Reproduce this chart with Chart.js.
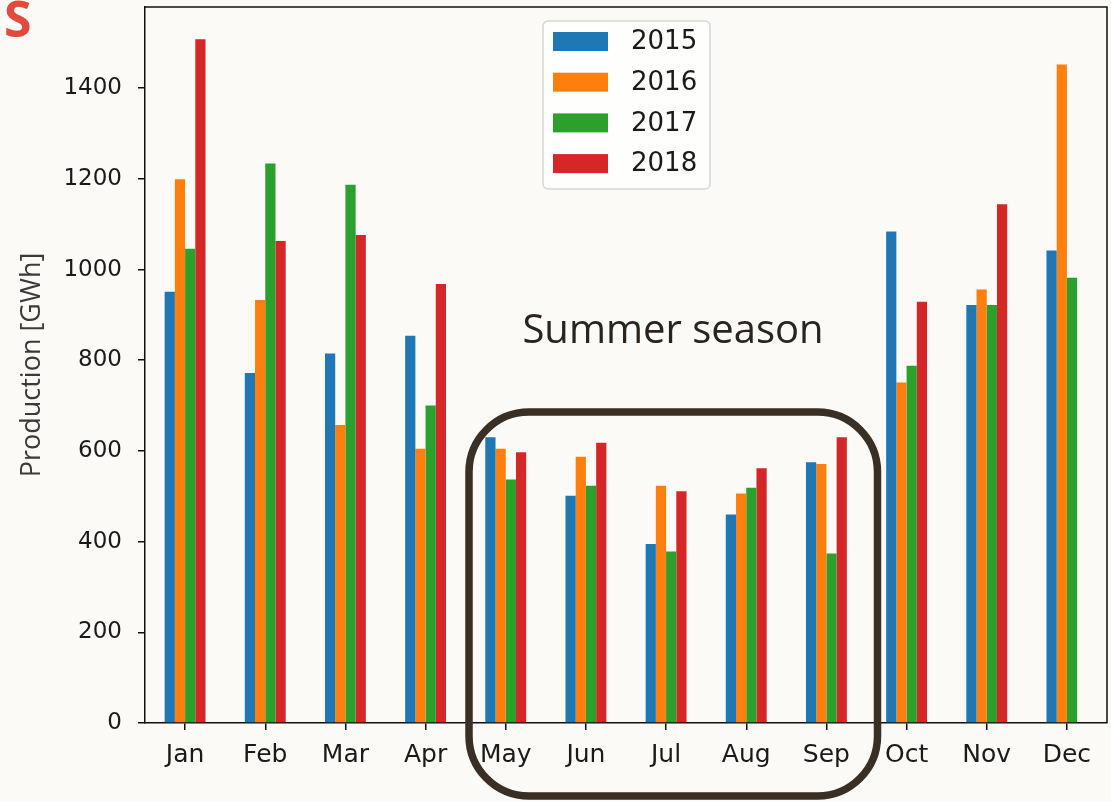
<!DOCTYPE html>
<html>
<head>
<meta charset="utf-8">
<script src="https://cdn.jsdelivr.net/npm/chart.js@4.4.0/dist/chart.umd.min.js"></script>
<style>
  html, body { margin: 0; padding: 0; background: #fbfaf6; }
  #wrap { width: 1111px; height: 802px; position: relative; }
</style>
</head>
<body>
<div id="wrap"><canvas id="prodChart"></canvas></div>
<script>
// monthly production, GWh
const months = ['Jan', 'Feb', 'Mar', 'Apr', 'May', 'Jun', 'Jul', 'Aug', 'Sep', 'Oct', 'Nov', 'Dec'];
const years = ['2015', '2016', '2017', '2018'];
const prod2015 = [951, 772, 815, 854, 630, 501, 395, 460, 575, 1084, 922, 1042];
const prod2016 = [1199, 933, 657, 605, 605, 587, 523, 506, 571, 751, 956, 1452];
const prod2017 = [1046, 1234, 1187, 700, 537, 523, 378, 519, 374, 788, 922, 982];
const prod2018 = [1508, 1063, 1076, 968, 597, 618, 511, 562, 630, 929, 1144, null];
const yTicks = [0, 200, 400, 600, 800, 1000, 1200, 1400];
const colors = ['#1f77b4', '#ff7f0e', '#2ca02c', '#d62728'];

const series = [prod2015, prod2016, prod2017, prod2018];

// background + frame + legend + annotations
const decor = {
    id: 'decor',
    beforeDraw(chart) {
        const c = chart.ctx;
        c.save();
        c.fillStyle = '#fbfaf6';
        c.fillRect(0, 0, chart.width, chart.height);
        c.restore();
    },
    afterDraw(chart) {
        const c = chart.ctx;
        const a = chart.chartArea;
        c.save();
        // top / right spines
        c.strokeStyle = '#111';
        c.lineWidth = 1.5;
        c.beginPath();
        c.moveTo(a.left, a.top);
        c.lineTo(a.right, a.top);
        c.lineTo(a.right, a.bottom);
        c.stroke();

        // legend box
        const items = chart.legend.legendItems || [];
        const cx = (a.left + a.right) / 2;
        const lx = cx - 83, ly = a.top + 14, lw = 167, lh = 168;
        c.fillStyle = 'rgba(255,255,255,0.8)';
        c.strokeStyle = '#d6d6d6';
        c.lineWidth = 1.5;
        c.beginPath();
        c.roundRect(lx, ly, lw, lh, 5);
        c.fill();
        c.stroke();
        c.font = '26px "DejaVu Sans"';
        c.textBaseline = 'middle';
        c.textAlign = 'left';
        items.forEach((it, i) => {
            const y = ly + 20.5 + i * 40.7;
            c.fillStyle = it.fillStyle;
            c.fillRect(lx + 10, y - 9.5, 55, 19);
            c.fillStyle = '#1a1a1a';
            c.fillText(it.text, lx + 88, y + 1);
        });

        // summer season annotation
        c.strokeStyle = '#3a2f25';
        c.lineWidth = 7.5;
        c.beginPath();
        c.roundRect(469, 412, 408.5, 384, 60);
        c.stroke();
        c.fillStyle = '#2b241e';
        c.font = '40px "Open Sans"';
        c.textAlign = 'center';
        c.textBaseline = 'alphabetic';
        c.fillText('Summer season', 673, 343);

        // panel letter
        c.fillStyle = '#e24a3b';
        c.font = 'bold 50px "Open Sans"';
        c.textAlign = 'left';
        c.fillText('S', 4, 37);
        c.restore();
    }
};

const ctx = document.getElementById('prodChart').getContext('2d');
const prodChart = new Chart(ctx, {
    type: 'bar',
    data: {
        labels: months,
        datasets: years.map((y, i) => ({
            label: y,
            data: series[i],
            backgroundColor: colors[i],
            borderWidth: 0,
            barPercentage: 1.0,
            categoryPercentage: 0.51
        }))
    },
    options: {
        responsive: true,
        maintainAspectRatio: false,
        animation: false,
        layout: { padding: { top: 7, right: 4, bottom: 0, left: 0 } },
        plugins: {
            legend: { display: false },
            tooltip: { enabled: false }
        },
        scales: {
            x: {
                grid: { display: true, offset: false, drawOnChartArea: false, drawTicks: true, tickLength: 7, color: '#111', lineWidth: 1.5 },
                border: { display: true, color: '#111', width: 1.5 },
                ticks: { color: '#1a1a1a', font: { family: 'DejaVu Sans', size: 25 }, padding: 10, maxRotation: 0 },
                afterFit(scale) {
                    scale.height = 79;
                    scale.paddingLeft = 0;
                    scale.paddingRight = 0;
                }
            },
            y: {
                min: 0,
                max: 1579,
                afterBuildTicks(scale) { scale.ticks = yTicks.map(v => ({ value: v })); },
                grid: { display: true, drawOnChartArea: false, drawTicks: true, tickLength: 7, color: '#111', lineWidth: 1.5 },
                border: { display: true, color: '#111', width: 1.5 },
                ticks: {
                    color: '#1a1a1a',
                    font: { family: 'DejaVu Sans', size: 23 },
                    padding: 16,
                    callback: v => String(v)
                },
                title: {
                    display: true,
                    text: 'Production [GWh]',
                    color: '#3a3a3a',
                    font: { family: 'Open Sans', size: 27 },
                    padding: { top: 16, bottom: 0 }
                },
                afterFit(scale) {
                    scale.width = 145;
                    scale.paddingTop = 0;
                    scale.paddingBottom = 0;
                }
            }
        }
    },
    plugins: [decor]
});
</script>
</body>
</html>
